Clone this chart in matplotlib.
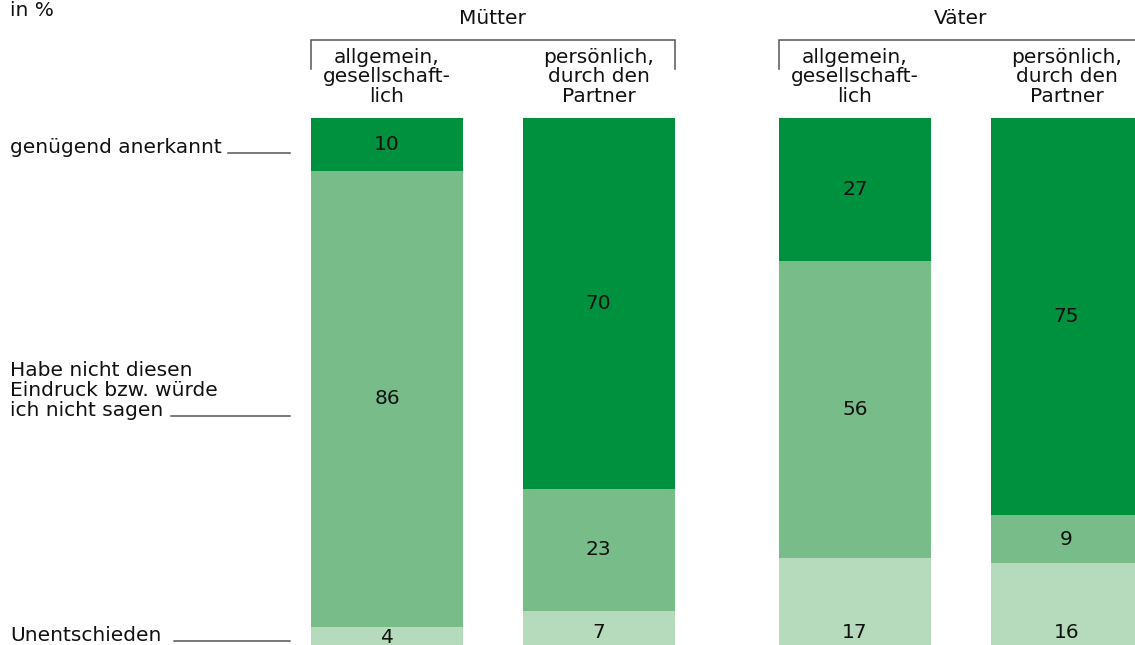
import matplotlib
matplotlib.use("Agg")
import matplotlib.pyplot as plt
import matplotlib.transforms as mtransforms

# shares in %, stacked bottom -> top
groups = ["Mütter", "Väter"]
bar_labels = [
    "allgemein,\ngesellschaft-\nlich",
    "persönlich,\ndurch den\nPartner",
    "allgemein,\ngesellschaft-\nlich",
    "persönlich,\ndurch den\nPartner",
]
unentschieden = [4, 7, 17, 16]
nicht_sagen = [86, 23, 56, 9]
anerkannt = [10, 70, 27, 75]

row_labels = ["Unentschieden",
              "Habe nicht diesen\nEindruck bzw. würde\nich nicht sagen",
              "genügend anerkannt"]
colors = ["#b6dbbc", "#78bd89", "#00913f"]

W, H = 1135, 645
plt.rcParams["font.family"] = "DejaVu Sans"
fig = plt.figure(figsize=(W / 100, H / 100), dpi=100)

# pixel coordinates measured from the top-left corner
toppx = mtransforms.Affine2D().scale(1 / W, -1 / H).translate(0, 1) + fig.transFigure

bar_top, bar_bottom = 117.5, 648
ax = fig.add_axes([0, (H - bar_bottom) / H, 1, (bar_bottom - bar_top) / H])
unit = 211.5
x0 = 387
pos = [0, 1, 2.213, 3.213]
width = 152 / unit
ax.set_xlim(-x0 / unit, (W - x0) / unit)
ax.set_ylim(0, 100)
ax.axis("off")

txt = "#111111"
bottom = [0, 0, 0, 0]
for layer, (vals, col) in enumerate(zip([unentschieden, nicht_sagen, anerkannt], colors)):
    ax.bar(pos, vals, width=width, bottom=bottom, color=col, linewidth=0)
    for x, b, v in zip(pos, bottom, vals):
        y = b + v / 2
        if layer == 0:
            y = min(y, 3.0)
        ax.text(x, y, str(v), ha="center", va="center", fontsize=14.5, color=txt)
    bottom = [b + v for b, v in zip(bottom, vals)]

mixed = mtransforms.blended_transform_factory(ax.transData, toppx)

# headings above the bars
for x, lab in zip(pos, bar_labels):
    ax.text(x, 48, lab, transform=mixed, ha="center", va="top",
            fontsize=14.5, linespacing=1.02, color=txt)

# group brackets
for name, (i, j) in zip(groups, [(0, 1), (2, 3)]):
    xl = pos[i] - width / 2
    xr = pos[j] + width / 2
    ax.plot([xl, xl, xr, xr], [69, 40, 40, 69], transform=mixed, color="#555555",
            linewidth=1.1, clip_on=False, solid_joinstyle="miter")
    ax.text((xl + xr) / 2, 19, name, transform=mixed, ha="center", va="center",
            fontsize=14.5, color=txt)

# row labels with leader lines
fig.text(10, 1, "in %", transform=toppx, ha="left", va="top", fontsize=14.5, color=txt)
for lab, base, x_line in zip(row_labels, [641, 416, 153], [174, 171, 228]):
    fig.text(10, base, lab, transform=toppx, ha="left", va="baseline",
             fontsize=14.5, linespacing=1.05, color=txt)
    fig.add_artist(plt.Line2D([x_line, 290], [base, base], transform=toppx,
                              color="#555555", linewidth=1.1))

fig.savefig("out.png", dpi=100)
